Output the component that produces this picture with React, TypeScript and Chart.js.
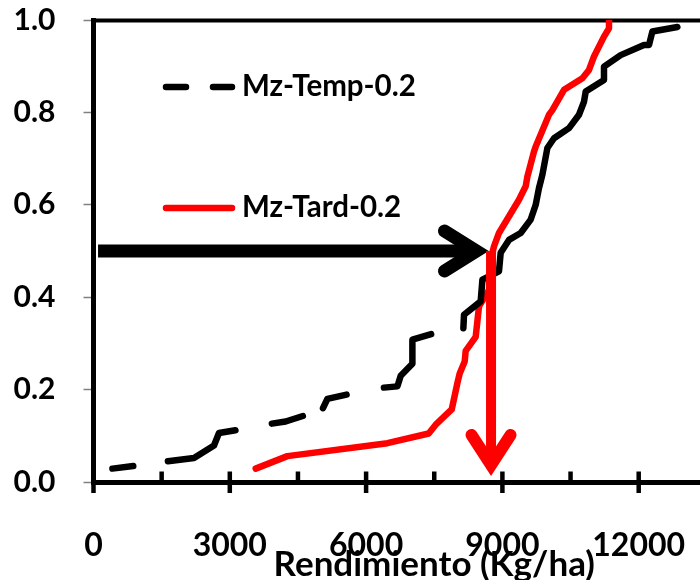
import React, { useEffect, useRef } from 'react';
import { Chart, registerables } from 'chart.js';

Chart.register(...registerables);

// ---------- data ----------
const SERIES_NAMES = ['Mz-Temp-0.2', 'Mz-Tard-0.2'];
const X_TITLE = 'Rendimiento (Kg/ha)';

const X_MIN = 0;
const X_MAX = 15000;
const X_TICKS = [0, 1500, 3000, 4500, 6000, 7500, 9000, 10500, 12000, 13500];
const X_LABEL_STEP = 3000;
const Y_MIN = 0;
const Y_MAX = 1;
const Y_STEP = 0.2;

const tempX = [416, 1001, 1627, 2212, 2652, 2762, 3240, 3900, 4230, 4708, 5038, 5148, 5661, 6359, 6689, 6762, 7019, 7019, 7532, 8141, 8155, 8522, 8560, 8925, 8962, 9145, 9403, 9623, 9733, 9805, 9880, 9990, 10136, 10466, 10686, 10796, 10833, 11236, 11236, 11603, 12116, 12227, 12301, 12851];
const tempY = [0.029, 0.036, 0.045, 0.052, 0.079, 0.106, 0.114, 0.126, 0.131, 0.146, 0.157, 0.18, 0.191, 0.204, 0.207, 0.23, 0.256, 0.308, 0.323, 0.333, 0.362, 0.391, 0.438, 0.456, 0.496, 0.524, 0.539, 0.568, 0.6, 0.636, 0.665, 0.723, 0.744, 0.766, 0.795, 0.823, 0.845, 0.87, 0.899, 0.924, 0.946, 0.946, 0.975, 0.985];

const tardX = [3570, 4268, 6469, 7378, 7532, 7884, 8016, 8060, 8170, 8192, 8412, 8485, 8705, 8742, 8815, 8925, 9365, 9513, 9550, 9695, 9733, 10026, 10100, 10356, 10761, 10906, 11016, 11236, 11346, 11346];
const tardY = [0.029, 0.056, 0.084, 0.105, 0.124, 0.157, 0.217, 0.235, 0.261, 0.284, 0.314, 0.38, 0.416, 0.481, 0.51, 0.539, 0.611, 0.64, 0.661, 0.715, 0.726, 0.795, 0.805, 0.849, 0.874, 0.892, 0.921, 0.964, 0.982, 1.0];

// annotation arrows (data units)
const BLACK_ARROW = { fromX: 100, toX: 8683, y: 0.5 };
const RED_ARROW = { x: 8750, fromY: 0.5, toY: 0.011 };

// ---------- styles ----------
const TEMP_DASH = [21, 35, 80, 37, 32, 22, 30, 38, 85, 34];
const TEMP_DASH_END_X = 8141;
const BOLD_FONT = 'Lato, "Open Sans", sans-serif';
const LINE_W = 6.5;

const decorPlugin = {
  id: 'decor',
  beforeDatasetsDraw(chart: any) {
    const { ctx, chartArea } = chart;
    const xs = chart.scales.x;
    ctx.save();
    ctx.strokeStyle = '#000';
    // top frame line
    ctx.lineWidth = 4;
    ctx.beginPath();
    ctx.moveTo(chartArea.left - 2.5, chartArea.top + 0.5);
    ctx.lineTo(chartArea.right, chartArea.top + 0.5);
    ctx.stroke();
    // x tick marks: majors cross the axis, minors inside only
    const axisY = chartArea.bottom;
    for (const t of xs.ticks) {
      const px = xs.getPixelForValue(t.value);
      const major = t.value % X_LABEL_STEP === 0;
      ctx.lineWidth = 4.5;
      ctx.beginPath();
      ctx.moveTo(px, axisY - 10.5);
      ctx.lineTo(px, major ? axisY + 11 : axisY);
      ctx.stroke();
    }
    ctx.restore();
  },
  afterDatasetsDraw(chart: any) {
    const { ctx } = chart;
    const xs = chart.scales.x;
    const ys = chart.scales.y;
    ctx.save();
    // black horizontal arrow
    const ay = ys.getPixelForValue(BLACK_ARROW.y);
    const bx0 = xs.getPixelForValue(BLACK_ARROW.fromX);
    const bTip = xs.getPixelForValue(BLACK_ARROW.toX) - 11.5;
    ctx.strokeStyle = '#000';
    ctx.lineCap = 'butt';
    ctx.lineWidth = 13;
    ctx.beginPath();
    ctx.moveTo(bx0, ay);
    ctx.lineTo(bTip, ay);
    ctx.stroke();
    ctx.lineCap = 'round';
    ctx.lineJoin = 'miter';
    ctx.miterLimit = 10;
    ctx.beginPath();
    ctx.moveTo(bTip - 32, ay - 20);
    ctx.lineTo(bTip, ay);
    ctx.lineTo(bTip - 32, ay + 20);
    ctx.stroke();

    // red vertical arrow
    const rx = xs.getPixelForValue(RED_ARROW.x);
    const ry0 = ys.getPixelForValue(RED_ARROW.fromY);
    const rTip = ys.getPixelForValue(RED_ARROW.toY) - 12;
    ctx.strokeStyle = '#ff0000';
    ctx.lineCap = 'butt';
    ctx.lineWidth = 10;
    ctx.beginPath();
    ctx.moveTo(rx, ry0);
    ctx.lineTo(rx, rTip);
    ctx.stroke();
    ctx.lineCap = 'round';
    ctx.lineWidth = 12;
    ctx.beginPath();
    ctx.moveTo(rx - 19.5, rTip - 30);
    ctx.lineTo(rx, rTip);
    ctx.lineTo(rx + 19.5, rTip - 30);
    ctx.stroke();

    // legend
    ctx.lineWidth = LINE_W;
    ctx.lineCap = 'round';
    ctx.strokeStyle = '#000';
    ctx.beginPath();
    ctx.moveTo(166, 87); ctx.lineTo(186, 87);
    ctx.moveTo(213, 87); ctx.lineTo(232, 87);
    ctx.stroke();
    ctx.strokeStyle = '#ff0000';
    ctx.beginPath();
    ctx.moveTo(166, 208); ctx.lineTo(232, 208);
    ctx.stroke();
    ctx.fillStyle = '#000';
    ctx.font = `bold 29.5px ${BOLD_FONT}`;
    ctx.textBaseline = 'alphabetic';
    ctx.textAlign = 'left';
    ctx.fillText(SERIES_NAMES[0], 242, 96);
    ctx.fillText(SERIES_NAMES[1], 242, 217);
    ctx.restore();
  },
};

export default function App() {
  const ref = useRef<HTMLCanvasElement | null>(null);

  useEffect(() => {
    if (!ref.current) return;
    const chart = new Chart(ref.current, {
      type: 'line',
      data: {
        datasets: [
          {
            label: SERIES_NAMES[0],
            data: tempX.map((x, i) => ({ x, y: tempY[i] })),
            borderColor: '#000',
            borderWidth: LINE_W,
            borderCapStyle: 'round',
            borderJoinStyle: 'round',
            borderDash: [],
            pointRadius: 0,
            tension: 0,
            segment: {
              borderDash: (c: any) => (c.p1.parsed.x <= TEMP_DASH_END_X ? TEMP_DASH : undefined),
            },
          } as any,
          {
            label: SERIES_NAMES[1],
            data: tardX.map((x, i) => ({ x, y: tardY[i] })),
            borderColor: '#ff0000',
            borderWidth: LINE_W,
            borderCapStyle: 'round',
            borderJoinStyle: 'round',
            pointRadius: 0,
            tension: 0,
          } as any,
        ],
      },
      options: {
        animation: false,
        responsive: false,
        devicePixelRatio: 1,
        layout: { padding: { top: 20, left: 0, right: 0, bottom: 0 } },
        plugins: {
          legend: { display: false },
          tooltip: { enabled: false },
          title: { display: false },
        },
        scales: {
          x: {
            type: 'linear',
            min: X_MIN,
            max: X_MAX,
            afterBuildTicks: (s: any) => {
              s.ticks = X_TICKS.map((v) => ({ value: v }));
            },
            afterFit: (s: any) => {
              s.height = 98;
              s.paddingLeft = 0;
              s.paddingRight = 0;
            },
            grid: { display: false },
            border: { display: true, color: '#000', width: 5 },
            ticks: {
              autoSkip: false,
              maxRotation: 0,
              padding: 36,
              color: '#000',
              font: { family: BOLD_FONT, size: 32, weight: 'bold' },
              callback: (v: any) => (Number(v) % X_LABEL_STEP === 0 ? String(v) : ''),
            },
            title: {
              display: true,
              text: X_TITLE,
              color: '#000',
              padding: 0,
              font: { family: BOLD_FONT, size: 35, weight: 'bold', lineHeight: 0.9 },
            },
          },
          y: {
            type: 'linear',
            min: Y_MIN,
            max: Y_MAX,
            afterFit: (s: any) => {
              s.width = 93.5;
              s.paddingTop = 0;
              s.paddingBottom = 0;
            },
            grid: {
              display: true,
              drawOnChartArea: false,
              drawTicks: true,
              tickLength: 10,
              tickColor: '#808080',
              tickWidth: 1.5,
            },
            border: { display: true, color: '#000', width: 5 },
            ticks: {
              stepSize: Y_STEP,
              padding: 28,
              color: '#000',
              font: { family: BOLD_FONT, size: 30, weight: 'bold' },
              callback: (v: any) => Number(v).toFixed(1),
            },
          },
        },
      } as any,
      plugins: [decorPlugin],
    });
    return () => chart.destroy();
  }, []);

  return (
    <div style={{ position: 'absolute', left: 0, top: 0, width: 700, height: 580, overflow: 'hidden', background: '#fff' }}>
      <canvas ref={ref} width={775} height={580} style={{ display: 'block', width: 775, height: 580 }} />
    </div>
  );
}
